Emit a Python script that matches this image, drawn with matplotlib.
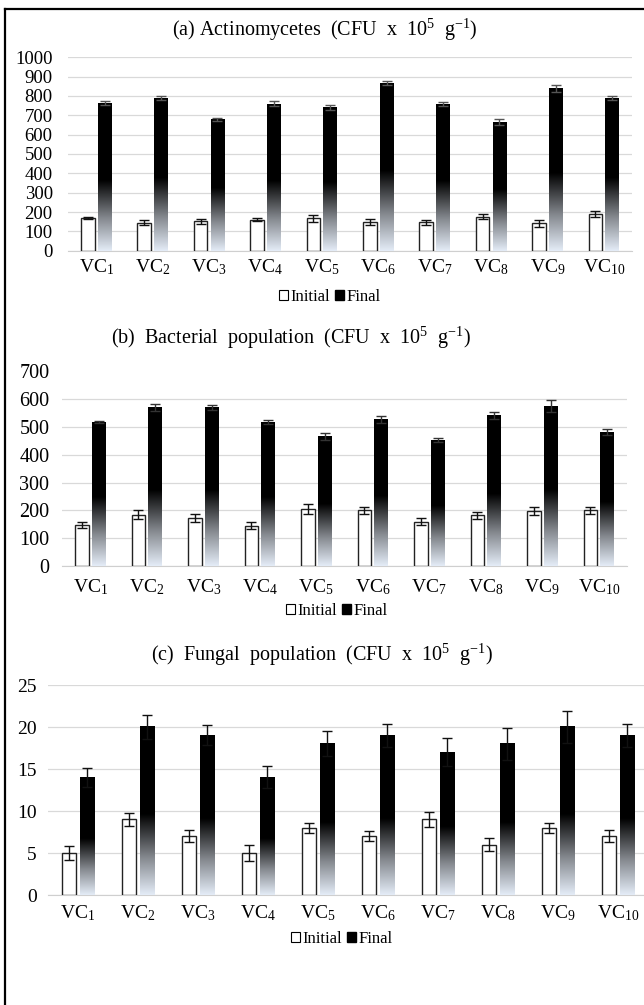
import numpy as np
import matplotlib.pyplot as plt
import matplotlib.colors as mcolors
from matplotlib.lines import Line2D
from matplotlib.patches import Patch

plt.rcParams['font.family'] = ['Liberation Serif', 'DejaVu Serif']
plt.rcParams['mathtext.fontset'] = 'custom'
plt.rcParams['mathtext.rm'] = 'Liberation Serif'
plt.rcParams['mathtext.it'] = 'Liberation Serif:italic'
plt.rcParams['mathtext.default'] = 'regular'

# data
labels = ['VC$_{%d}$' % i for i in range(1, 11)]

actino_init = [168, 145, 152, 160, 168, 148, 148, 175, 143, 188]
actino_init_err = [5, 14, 14, 8, 18, 14, 13, 13, 18, 15]
actino_final = [765, 790, 680, 760, 740, 865, 760, 665, 840, 790]
actino_final_err = [10, 10, 8, 12, 12, 10, 10, 15, 18, 10]

bact_init = [148, 185, 172, 145, 205, 200, 160, 182, 198, 200]
bact_init_err = [10, 15, 15, 12, 18, 12, 12, 12, 15, 12]
bact_final = [518, 570, 570, 518, 465, 528, 453, 542, 575, 482]
bact_final_err = [3, 12, 8, 8, 12, 12, 8, 12, 22, 12]

fung_init = [5, 9, 7, 5, 8, 7, 9, 6, 8, 7]
fung_init_err = [0.8, 0.8, 0.7, 0.9, 0.6, 0.6, 0.9, 0.8, 0.6, 0.7]
fung_final = [14, 20, 19, 14, 18, 19, 17, 18, 20, 19]
fung_final_err = [1.1, 1.4, 1.2, 1.3, 1.5, 1.4, 1.7, 1.9, 1.9, 1.4]

W, H = 644, 1005
fig = plt.figure(figsize=(W/100, H/100), dpi=100)

fade = mcolors.LinearSegmentedColormap.from_list(
    'fade', [(0, '#e4ecf7'), (0.22, '#85898f'), (0.48, '#000000'), (1, '#000000')])


def panel(l, r, top, bottom, init, init_err, final, final_err, ymax, step,
          title, title_xy, leg_xy, ysize, ypad, xpad, ecol, hide_top=False):
    ax = fig.add_axes([l/W, 1-bottom/H, (r-l)/W, (bottom-top)/H])
    x = np.arange(len(labels))
    w = 0.24
    off = 0.148
    ax.bar(x-off, init, w, color='white', edgecolor='#222222', lw=1.0, zorder=3)
    b2 = ax.bar(x+off, final, w, color='none', lw=0, zorder=3)
    grad = np.linspace(0, 1, 256).reshape(-1, 1)
    for p in b2:
        x0, bw, bh = p.get_x(), p.get_width(), p.get_height()
        ax.imshow(grad, extent=[x0, x0+bw, 0, bh], origin='lower', cmap=fade,
                  aspect='auto', interpolation='bilinear', zorder=3)
    ax.errorbar(x-off, init, yerr=init_err, fmt='none', ecolor='#111111',
                elinewidth=1, capsize=3.5, capthick=1, zorder=4)
    ax.errorbar(x+off, final, yerr=final_err, fmt='none', ecolor=ecol,
                elinewidth=1, capsize=3.5, capthick=1, zorder=4)
    ax.set_xlim(-0.5, len(labels)-0.5)
    ax.set_ylim(0, ymax)
    ax.set_yticks(np.arange(0, ymax+step/2, step))
    ax.set_xticks(x)
    ax.set_xticklabels(labels, fontsize=14)
    ax.tick_params(axis='y', length=0, labelsize=ysize, pad=ypad)
    ax.tick_params(axis='x', length=0, pad=xpad)
    ax.grid(axis='y', color='#d9d9d9', lw=0.9, zorder=0)
    ax.set_axisbelow(True)
    for s in ['top', 'right', 'left']:
        ax.spines[s].set_visible(False)
    ax.spines['bottom'].set_color('#cfcfcf')
    if hide_top:
        ax.get_ygridlines()[-1].set_visible(False)
    fig.text(title_xy[0]/W, 1-title_xy[1]/H, title, ha='center', va='center',
             fontsize=14.5)
    handles = [Patch(facecolor='white', edgecolor='black', lw=0.8),
               Patch(facecolor='black', edgecolor='black')]
    fig.legend(handles, ['Initial', 'Final'], loc='center',
               bbox_to_anchor=(leg_xy[0]/W, 1-leg_xy[1]/H), ncol=2, frameon=False,
               fontsize=12, handlelength=0.55, handleheight=0.55,
               handletextpad=0.15, columnspacing=0.3, borderpad=0)
    return ax


panel(68, 632, 57.3, 250.7, actino_init, actino_init_err, actino_final,
      actino_final_err, 1000, 100,
      '(a) Actinomycetes  (CFU  x  10$^{5}$  g$^{-1}$)', (325, 30), (330, 297),
      13.5, 11, 5, '#555555')
panel(62, 627, 371.5, 566, bact_init, bact_init_err, bact_final,
      bact_final_err, 700, 100,
      '(b)  Bacterial  population  (CFU  x  10$^{5}$  g$^{-1}$)', (291, 338),
      (337, 611), 14.5, 9, 8, '#333333', hide_top=True)
panel(48, 648, 685, 895, fung_init, fung_init_err, fung_final,
      fung_final_err, 25, 5,
      '(c)  Fungal  population  (CFU  x  10$^{5}$  g$^{-1}$)', (322, 655),
      (342, 939), 14, 8, 6, '#111111')

# outer frame (top and left edges only)
fig.add_artist(Line2D([5/W, 1], [1-9/H, 1-9/H], color='black', lw=1.6,
                      transform=fig.transFigure))
fig.add_artist(Line2D([5/W, 5/W], [0, 1-9/H], color='black', lw=1.6,
                      transform=fig.transFigure))

fig.savefig('out.png', dpi=100)
